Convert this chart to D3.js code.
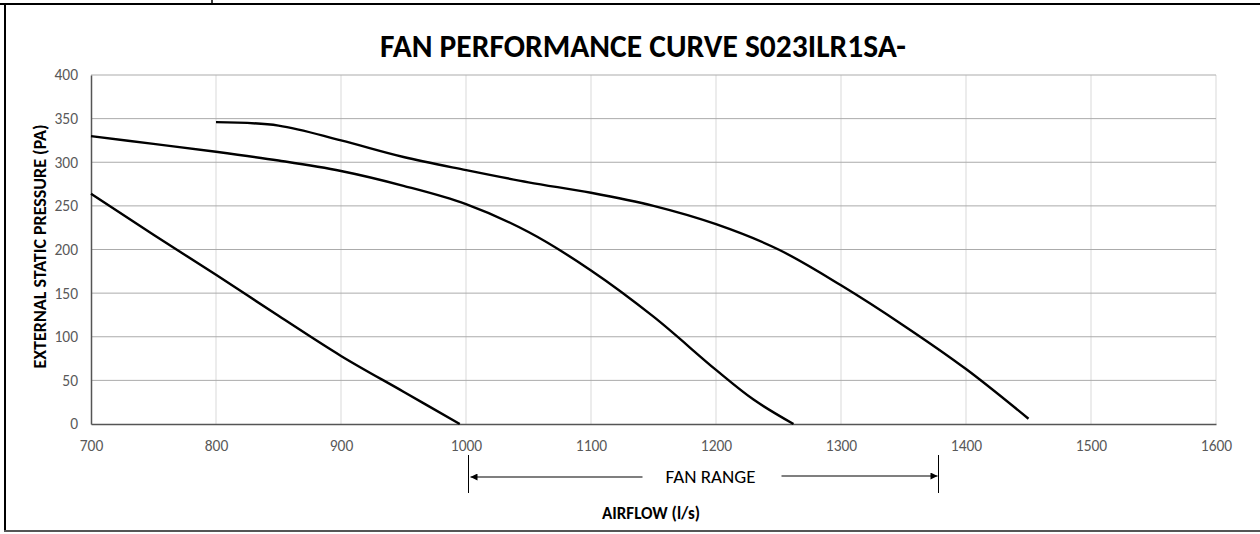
<!DOCTYPE html>
<html>
<head>
<meta charset="utf-8">
<script src="https://cdn.jsdelivr.net/npm/d3@7"></script>
<style>
  body { margin: 0; background: #fff; }
  svg { display: block; font-family: Calibri, Carlito, "Open Sans", "Liberation Sans", sans-serif; }
</style>
</head>
<body>
<svg id="chart" width="1260" height="534"></svg>
<script>
'use strict';

// chart values
const xTicks = [700, 800, 900, 1000, 1100, 1200, 1300, 1400, 1500, 1600];
const yTicks = [0, 50, 100, 150, 200, 250, 300, 350, 400];

const curveLow = [[700, 264], [750, 217], [800, 171], [850, 124], [900, 78], [950, 37], [995, 0]];
const curveMid = [[700, 330], [750, 321], [800, 312], [850, 302], [900, 290], [950, 273], [1000, 252],
                  [1050, 220], [1100, 176], [1150, 123], [1200, 62], [1230, 28], [1262, 0]];
const curveHigh = [[800, 346], [850, 342], [900, 325], [950, 306], [1000, 291], [1050, 277], [1100, 265],
                   [1150, 250], [1200, 229], [1250, 200], [1300, 159], [1350, 113], [1400, 63], [1450, 6]];
const fanRange = [1002, 1378];

// layout
const
    W = 1260,
    H = 534,
    pLeft = 91, pRight = 1216,
    pTop = 75, pBottom = 424;

const svg = d3.select('#chart');

const x = d3.scaleLinear().domain([700, 1600]).range([pLeft, pRight]);
const y = d3.scaleLinear().domain([0, 400]).range([pBottom, pTop]);

// outer frame
svg.append('line').attr('x1', 0).attr('x2', W).attr('y1', 4).attr('y2', 4)
    .attr('stroke', '#000').attr('stroke-width', 2);
svg.append('line').attr('x1', 212).attr('x2', 212).attr('y1', 0).attr('y2', 4)
    .attr('stroke', '#000').attr('stroke-width', 1.5);
svg.append('line').attr('x1', 5).attr('x2', 5).attr('y1', 4).attr('y2', 532)
    .attr('stroke', '#000').attr('stroke-width', 2);
svg.append('line').attr('x1', 4).attr('x2', W).attr('y1', 531).attr('y2', 531)
    .attr('stroke', '#555').attr('stroke-width', 2);

// grid
svg.append('g')
    .selectAll('line').data(xTicks.slice(1)).join('line')
    .attr('x1', d => x(d)).attr('x2', d => x(d))
    .attr('y1', pTop).attr('y2', pBottom)
    .attr('stroke', '#d9d9d9').attr('stroke-width', 1);

svg.append('g')
    .selectAll('line').data(yTicks.slice(1)).join('line')
    .attr('x1', pLeft).attr('x2', pRight)
    .attr('y1', d => y(d)).attr('y2', d => y(d))
    .attr('stroke', '#ababab').attr('stroke-width', 1);

// axes
const xAxis = svg.append('g')
    .attr('transform', `translate(0,${pBottom})`)
    .call(d3.axisBottom(x).tickValues(xTicks).tickFormat(d3.format('d')).tickSize(0).tickPadding(16));
const yAxis = svg.append('g')
    .attr('transform', `translate(${pLeft},0)`)
    .call(d3.axisLeft(y).tickValues(yTicks).tickFormat(d3.format('d')).tickSize(0).tickPadding(13));

[xAxis, yAxis].forEach(a => {
    a.select('.domain').attr('stroke', '#555').attr('stroke-width', 1.5);
    a.selectAll('text').attr('fill', '#595959').attr('font-size', 15.5)
        .attr('font-family', 'Calibri, Carlito, "Open Sans", "Liberation Sans", sans-serif');
});

// curves
const line = d3.line()
    .x(d => x(d[0]))
    .y(d => y(d[1]))
    .curve(d3.curveCatmullRom.alpha(0.5));

svg.append('g')
    .selectAll('path').data([curveLow, curveMid, curveHigh]).join('path')
    .attr('d', line)
    .attr('fill', 'none')
    .attr('stroke', '#000')
    .attr('stroke-width', 2.4)
    .attr('stroke-linecap', 'butt');

// title
svg.append('text')
    .attr('x', 643).attr('y', 57)
    .attr('text-anchor', 'middle')
    .attr('font-size', 31.5).attr('font-weight', 'bold')
    .text('FAN PERFORMANCE CURVE S023ILR1SA-');

// axis titles
svg.append('text')
    .attr('transform', `translate(46,${(pTop + pBottom) / 2 - 3}) rotate(-90)`)
    .attr('text-anchor', 'middle')
    .attr('font-size', 18).attr('font-weight', 'bold')
    .text('EXTERNAL STATIC PRESSURE (PA)');

svg.append('text')
    .attr('x', 651).attr('y', 519)
    .attr('text-anchor', 'middle')
    .attr('font-size', 17).attr('font-weight', 'bold')
    .text('AIRFLOW (l/s)');

// fan range marker
const defs = svg.append('defs');
defs.append('marker')
    .attr('id', 'arrow')
    .attr('viewBox', '0 0 10 10')
    .attr('refX', 10).attr('refY', 5)
    .attr('markerWidth', 9).attr('markerHeight', 7)
    .attr('markerUnits', 'userSpaceOnUse')
    .attr('orient', 'auto')
    .append('path').attr('d', 'M0,0L10,5L0,10z').attr('fill', '#000');

const fy = 477;
const fr = svg.append('g');
fr.selectAll('line.edge').data(fanRange).join('line')
    .attr('class', 'edge')
    .attr('x1', d => x(d)).attr('x2', d => x(d))
    .attr('y1', fy - 22).attr('y2', fy + 16)
    .attr('stroke', '#000').attr('stroke-width', 1);

const mid = (x(fanRange[0]) + x(fanRange[1])) / 2;
fr.append('line')
    .attr('x1', mid - 61).attr('x2', x(fanRange[0]) + 2)
    .attr('y1', fy).attr('y2', fy)
    .attr('stroke', '#000').attr('stroke-width', 1.2)
    .attr('marker-end', 'url(#arrow)');
fr.append('line')
    .attr('x1', mid + 78).attr('x2', x(fanRange[1]) - 1)
    .attr('y1', fy - 1).attr('y2', fy - 1)
    .attr('stroke', '#000').attr('stroke-width', 1.2)
    .attr('marker-end', 'url(#arrow)');
fr.append('text')
    .attr('x', mid + 7).attr('y', fy + 6)
    .attr('text-anchor', 'middle')
    .attr('font-size', 19)
    .text('FAN RANGE');
</script>
</body>
</html>
